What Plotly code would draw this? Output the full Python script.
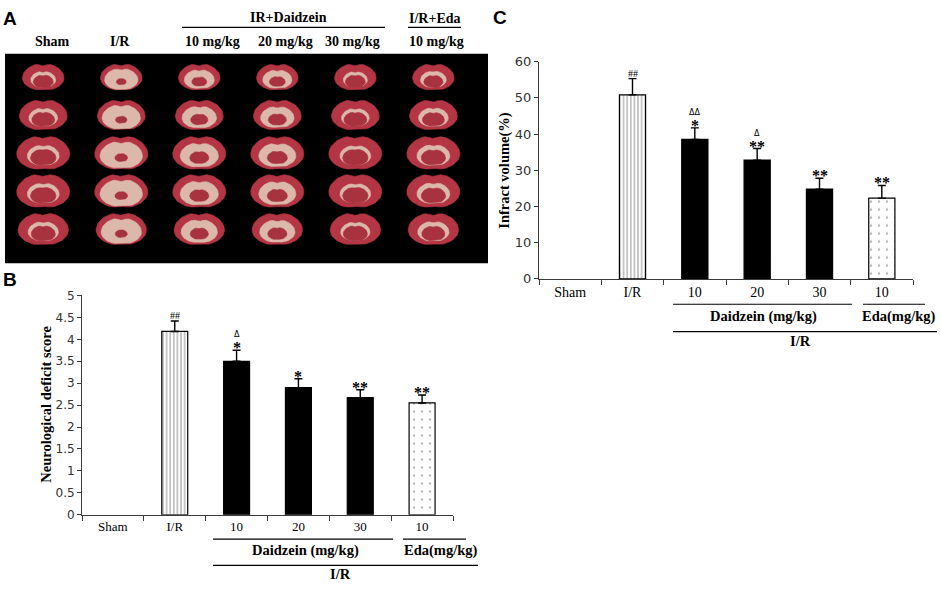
"""Three-panel figure: TTC brain slices (A), neurological deficit score (B), infarct volume (C)."""
import numpy as np
import plotly.graph_objects as go

W, H = 941, 591

# ---- data -------------------------------------------------------------
groups = ["Sham", "I/R", "D10", "D20", "D30", "Eda10"]
tick_text = ["Sham", "I/R", "10", "20", "30", "10"]

neuro_score = [None, 4.18, 3.50, 2.90, 2.67, 2.55]
neuro_err = [None, 0.24, 0.25, 0.20, 0.18, 0.18]
neuro_stars = ["", "##", "*", "*", "**", "**"]
neuro_delta = ["", "", "Δ", "", "", ""]

infarct_vol = [None, 50.8, 38.5, 32.8, 24.8, 22.3]
infarct_err = [None, 4.5, 3.2, 3.2, 3.0, 3.5]
infarct_stars = ["", "##", "*", "**", "**", "**"]
infarct_delta = ["", "", "ΔΔ", "Δ", "", ""]

slice_cols = ["Sham", "I/R", "10 mg/kg", "20 mg/kg", "30 mg/kg", "10 mg/kg"]
slice_rows = [0, 1, 2, 3, 4]
# rough share of pale (unstained) tissue and red core per column, by eye
pale_extent = [0.60, 0.80, 0.72, 0.70, 0.58, 0.62]
core_extent = [0.48, 0.24, 0.36, 0.38, 0.48, 0.46]
row_size = [0.8, 0.92, 1.02, 1.02, 0.97]

SERIF = "Liberation Serif"
SANS = "DejaVu Sans"


def px(x):
    return x / W


def py(y):
    return 1 - y / H


# bar styling: striped I/R, solid black Daidzein, dotted Eda
fill_col = ["white", "white", "black", "black", "black", "white"]
pat_shape = ["", "|", "", "", "", "."]
pat_size = [8, 3.6, 8, 8, 8, 8]
pat_solid = [0.2, 0.33, 0.2, 0.2, 0.2, 0.06]

fig = go.Figure()


def add_bars(values, errors, xa, ya):
    fig.add_trace(go.Bar(
        x=groups, y=values, xaxis=xa, yaxis=ya, width=0.42, showlegend=False,
        marker=dict(color=fill_col, line=dict(color="black", width=1.2),
                    pattern=dict(shape=pat_shape, fgcolor="black", size=pat_size,
                                 solidity=pat_solid, fillmode="overlay")),
        error_y=dict(type="data", symmetric=False, array=errors,
                     arrayminus=[0] * len(errors), color="black", thickness=1.4, width=4),
    ))


add_bars(neuro_score, neuro_err, "x", "y")
add_bars(infarct_vol, infarct_err, "x2", "y2")

# ---- panel A: stylised slices -----------------------------------------
t = np.linspace(0, 2 * np.pi, 64)
ox = np.cos(t)
oy = np.sin(t) * 0.72
oy = oy * (1 - 0.16 * np.exp(-((t - np.pi / 2) / 0.2) ** 2)
           - 0.10 * np.exp(-((t - 3 * np.pi / 2) / 0.25) ** 2))
oy = np.where(oy < 0, oy * 0.85, oy)

layers = {"outer": ([], [], "#b43644"), "pale": ([], [], "#dcb8aa"), "core": ([], [], "#a8333f")}
for ci, col in enumerate(slice_cols):
    for ri in slice_rows:
        hw = 26 * row_size[ri]
        for name, k, dy in (("outer", 1.0, 0.0), ("pale", pale_extent[ci], 0.05),
                            ("core", core_extent[ci], 0.10)):
            xs, ys, _ = layers[name]
            xs.extend(list(ci + ox * hw * k / 78) + [None])
            ys.extend(list(ri + dy - oy * hw * k / 39) + [None])

for name, (xs, ys, color) in layers.items():
    fig.add_trace(go.Scatter(x=xs, y=ys, xaxis="x3", yaxis="y3", mode="lines",
                             fill="toself", fillcolor=color, line=dict(width=0.6, color=color),
                             hoverinfo="skip", showlegend=False))

# ---- annotations ------------------------------------------------------
ann = []
shapes = []


def sig_marks(values, errors, stars, deltas, xa, ya):
    for g, v, e, s, d in zip(groups, values, errors, stars, deltas):
        if v is None:
            continue
        top = v + e
        if s == "##":
            ann.append(dict(x=g, y=top, xref=xa, yref=ya, text="##", showarrow=False,
                            yanchor="bottom", yshift=-2,
                            font=dict(family=SERIF, size=10, color="black")))
        elif s:
            ann.append(dict(x=g, y=top, xref=xa, yref=ya, text=f"<b>{s}</b>", showarrow=False,
                            yanchor="bottom", yshift=-8,
                            font=dict(family=SERIF, size=16, color="black")))
        if d:
            ann.append(dict(x=g, y=top, xref=xa, yref=ya, text=d, showarrow=False,
                            yanchor="bottom", yshift=9,
                            font=dict(family=SANS, size=8, color="black")))


sig_marks(neuro_score, neuro_err, neuro_stars, neuro_delta, "x", "y")
sig_marks(infarct_vol, infarct_err, infarct_stars, infarct_delta, "x2", "y2")


def text(x, y, s, size=12, family=SERIF, bold=True, angle=0, xanchor="center"):
    ann.append(dict(x=px(x), y=py(y), xref="paper", yref="paper", showarrow=False,
                    text=f"<b>{s}</b>" if bold else s, textangle=angle, xanchor=xanchor,
                    yanchor="middle", font=dict(family=family, size=size, color="black")))


def hline(x0, x1, y, width=1.2):
    shapes.append(dict(type="line", xref="paper", yref="paper", x0=px(x0), x1=px(x1),
                       y0=py(y), y1=py(y), line=dict(color="black", width=width)))


# panel letters
text(10, 12, "A", size=19, family="Liberation Sans")
text(10, 280, "B", size=19, family="Liberation Sans")
text(500, 11, "C", size=19, family="Liberation Sans")

# panel A headers
text(288, 11, "IR+Daidzein", size=14)
hline(182, 385, 21)
text(435, 12, "I/R+Eda", size=14)
hline(408, 461, 21)
for x, lab in zip([52, 120, 212, 285, 352, 436], slice_cols):
    text(x, 35, lab, size=14)

# group brackets under B and C
for (l1a, l1b, l2a, l2b, l3b, y1, y2, y3, y4, dx, ex, irx) in (
        (213, 393, 403, 466, 478, 546, 558, 573, 582, 305, 440, 340),
        (673, 852, 863, 925, 937, 305, 318, 333, 343, 763, 898, 800)):
    hline(l1a, l1b, y1)
    hline(l2a, l2b, y1)
    text(dx, y2, "Daidzein (mg/kg)", size=14.5)
    text(ex, y2, "Eda(mg/kg)", size=14.5)
    hline(l1a, l3b, y3)
    text(irx, y4, "I/R", size=14.5)

# y-axis titles
text(46, 408, "Neurological deficit score", size=14.5, angle=-90)
text(505, 168, "Infract volume(%)", size=14.5, angle=-90)

# black backdrop for the slice photo
shapes.append(dict(type="rect", xref="x3 domain", yref="y3 domain", x0=0, x1=1, y0=0, y1=1,
                   fillcolor="black", line=dict(width=0), layer="below"))

AX = "#3a3a3a"
xcommon = dict(type="category", range=[-0.5, 5.5], tickmode="array", tickvals=groups,
               ticktext=tick_text, tickson="boundaries", ticks="outside", ticklen=5,
               tickcolor=AX, showline=True, linecolor=AX, linewidth=1, showgrid=False,
               zeroline=False, fixedrange=True)
ycommon = dict(ticks="outside", ticklen=4, tickcolor=AX, showline=True, linecolor=AX,
               linewidth=1, showgrid=False, zeroline=False, fixedrange=True)

fig.update_layout(
    width=W, height=H, margin=dict(l=0, r=0, t=0, b=0),
    paper_bgcolor="white", plot_bgcolor="white", showlegend=False,
    xaxis=dict(domain=[px(82), px(453)], anchor="y",
               tickfont=dict(family=SERIF, size=13, color="black"), **xcommon),
    yaxis=dict(domain=[py(521), py(296)], anchor="x", range=[0, 5], dtick=0.5,
               tickfont=dict(family=SANS, size=12, color="#333"), **ycommon),
    xaxis2=dict(domain=[px(539), px(913)], anchor="y2",
                tickfont=dict(family=SERIF, size=14, color="black"), **xcommon),
    yaxis2=dict(domain=[py(279), py(56)], anchor="x2", range=[0, 60], dtick=10,
                tickfont=dict(family=SANS, size=13, color="#333"), **ycommon),
    xaxis3=dict(domain=[px(5), px(488)], anchor="y3", range=[-0.49, 5.7], visible=False,
                fixedrange=True),
    yaxis3=dict(domain=[py(263), py(48)], anchor="x3", range=[4.87, -0.64], visible=False,
                fixedrange=True),
    annotations=ann, shapes=shapes,
)

fig.write_html("out.html", config={"displayModeBar": False},
               post_script="document.body.style.margin='0';")
